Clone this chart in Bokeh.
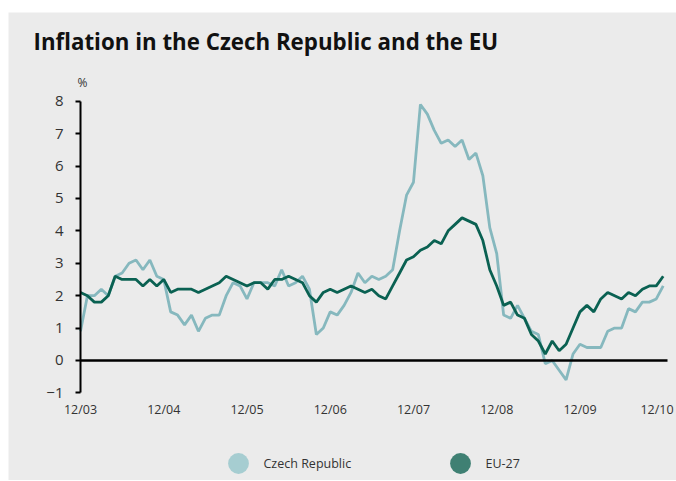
from bokeh.plotting import figure
from bokeh.models import (Legend, LegendItem, Label, FixedTicker, Spacer,
                          ColumnDataSource, LinearAxis)
from bokeh.layouts import column, row
from bokeh.embed import file_html
from bokeh.resources import INLINE

# Monthly observations, 12/2003 .. 12/2010 (85 months), year-on-year inflation in %
czech = [0.9, 2.0, 2.0, 2.2, 2.0, 2.6, 2.7, 3.0, 3.1, 2.8, 3.1, 2.6, 2.5,
         1.5, 1.4, 1.1, 1.4, 0.9, 1.3, 1.4, 1.4, 2.0, 2.4, 2.3, 1.9,
         2.4, 2.4, 2.4, 2.3, 2.8, 2.3, 2.4, 2.6, 2.2, 0.8, 1.0, 1.5,
         1.4, 1.7, 2.1, 2.7, 2.4, 2.6, 2.5, 2.6, 2.8, 4.0, 5.1, 5.5,
         7.9, 7.6, 7.1, 6.7, 6.8, 6.6, 6.8, 6.2, 6.4, 5.7, 4.1, 3.3,
         1.4, 1.3, 1.7, 1.3, 0.9, 0.8, -0.1, 0.0, -0.3, -0.6, 0.2, 0.5,
         0.4, 0.4, 0.4, 0.9, 1.0, 1.0, 1.6, 1.5, 1.8, 1.8, 1.9, 2.3]
eu27 = [2.1, 2.0, 1.8, 1.8, 2.0, 2.6, 2.5, 2.5, 2.5, 2.3, 2.5, 2.3, 2.5,
        2.1, 2.2, 2.2, 2.2, 2.1, 2.2, 2.3, 2.4, 2.6, 2.5, 2.4, 2.3,
        2.4, 2.4, 2.2, 2.5, 2.5, 2.6, 2.5, 2.4, 2.0, 1.8, 2.1, 2.2,
        2.1, 2.2, 2.3, 2.2, 2.1, 2.2, 2.0, 1.9, 2.3, 2.7, 3.1, 3.2,
        3.4, 3.5, 3.7, 3.6, 4.0, 4.2, 4.4, 4.3, 4.2, 3.7, 2.8, 2.3,
        1.7, 1.8, 1.4, 1.3, 0.8, 0.6, 0.2, 0.6, 0.3, 0.5, 1.0, 1.5,
        1.7, 1.5, 1.9, 2.1, 2.0, 1.9, 2.1, 2.0, 2.2, 2.3, 2.3, 2.6]
months = list(range(len(czech)))
tick_labels = ["12/03", "12/04", "12/05", "12/06", "12/07", "12/08", "12/09", "12/10"]
y_ticks = [-1, 0, 1, 2, 3, 4, 5, 6, 7, 8]

# December of each year; the last label is nudged inward so that it stays on the page
tick_pos = [min(12 * k, 83.1) for k in range(len(tick_labels))]

BG = "#ebebeb"
C_CZ = "#86b8be"
C_EU = "#0a6152"
FONT = "Open Sans"

# canvas geometry (the frame fills the whole canvas)
W, H = 668, 468
AXIS_X = 72.0          # px from canvas left to the first month
PX_X = 6.937           # px per month
PX_Y = 32.41           # px per percentage point
Y_TOP_PX = 88.7        # px from canvas top to the 8 % level
x_start = -AXIS_X / PX_X
x_end = (W - AXIS_X) / PX_X
y_end = 8 + Y_TOP_PX / PX_Y
y_start = y_end - H / PX_Y

src = ColumnDataSource(dict(m=months, cz=czech, eu=eu27))

p = figure(width=W, height=H, output_backend="svg", toolbar_location=None, title=None,
           x_range=(x_start, x_end), y_range=(y_start, y_end),
           background_fill_color=BG, border_fill_color=BG,
           min_border_left=0, min_border_right=0, min_border_top=0, min_border_bottom=0,
           outline_line_color=None)
p.grid.visible = False

p.add_layout(Label(x=x_start + 25 / PX_X, y=y_end - 29 / PX_Y,
                   text="Inflation in the Czech Republic and the EU",
                   text_font=FONT, text_font_style="bold", text_font_size="22.3px",
                   text_color="#111111", text_baseline="alphabetic", text_align="left"))

p.line("m", "cz", source=src, line_color=C_CZ, line_width=2.8)
p.line("m", "eu", source=src, line_color=C_EU, line_width=2.8)

# y axis at the first month
yax = p.yaxis[0]
yax.fixed_location = 0
yax.bounds = (-1, 8)
yax.ticker = FixedTicker(ticks=y_ticks)
yax.minor_tick_line_color = None
yax.major_tick_in = 0
yax.major_tick_out = 5
yax.major_tick_line_width = 2
yax.major_tick_line_color = "black"
yax.axis_line_color = "black"
yax.axis_line_width = 2
yax.major_label_text_font = FONT
yax.major_label_text_font_size = "15px"
yax.major_label_text_color = "#333333"
yax.major_label_standoff = 12

# date labels under the -1 level
xax = p.xaxis[0]
xax.fixed_location = -1
xax.ticker = FixedTicker(ticks=tick_pos)
xax.major_label_overrides = {t: l for t, l in zip(tick_pos, tick_labels)}
xax.axis_line_color = None
xax.major_tick_line_color = None
xax.minor_tick_line_color = None
xax.major_label_text_font = FONT
xax.major_label_text_font_size = "12.5px"
xax.major_label_text_color = "#333333"
xax.major_label_standoff = 2

# zero line (an axis line at y = 0 over the data span)
zero_ax = LinearAxis(fixed_location=0, bounds=(0, 84.6), ticker=FixedTicker(ticks=[]),
                     axis_line_color="black", axis_line_width=2.5,
                     major_tick_line_color=None, minor_tick_line_color=None,
                     major_label_text_font_size="0px")
p.add_layout(zero_ax, "below")

p.add_layout(Label(x=0, y=8, x_offset=2, y_offset=10, text="%", text_align="center",
                   text_font=FONT, text_font_size="12px", text_color="#333333"))

# legend markers (circle icons), anchored on the last observation with a tiny size
r_cz = p.scatter(x=[months[-1]], y=[czech[-1]], size=0.01, marker="circle",
                 fill_color="#a6cdd1", line_color=None)
r_eu = p.scatter(x=[months[-1]], y=[eu27[-1]], size=0.01, marker="circle",
                 fill_color="#3f8073", line_color=None)


def make_legend(label, renderer, left):
    return Legend(items=[LegendItem(label=label, renderers=[renderer])],
                  orientation="horizontal", location=(left, -9),
                  glyph_width=52, glyph_height=52, label_standoff=0,
                  padding=0, margin=0, border_line_color=None, background_fill_alpha=0,
                  label_text_font=FONT, label_text_font_size="12.5px",
                  label_text_color="#333333")


p.add_layout(make_legend("Czech Republic", r_cz, 203.5), "center")
p.add_layout(make_legend("EU-27", r_eu, 425.5), "center")

layout = column(Spacer(height=12), row(Spacer(width=8), p, spacing=0), spacing=0)
open("out.html", "w").write(file_html(layout, INLINE))
